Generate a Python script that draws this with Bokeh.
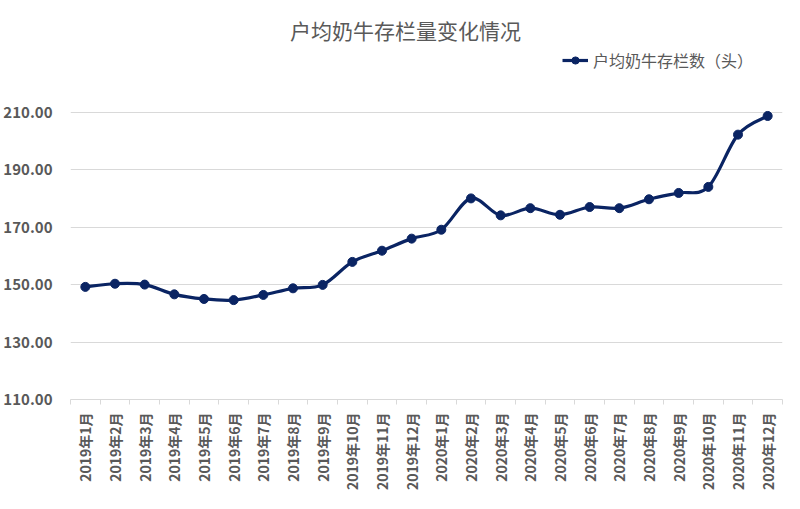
import numpy as np
from bokeh.plotting import figure
from bokeh.models import (Range1d, FixedTicker, NumeralTickFormatter, Legend, LegendItem, Label)
from bokeh.embed import file_html
from bokeh.resources import INLINE

title_text = "户均奶牛存栏量变化情况"
series_name = "户均奶牛存栏数（头）"
months = ["2019年1月", "2019年2月", "2019年3月", "2019年4月", "2019年5月", "2019年6月",
          "2019年7月", "2019年8月", "2019年9月", "2019年10月", "2019年11月", "2019年12月",
          "2020年1月", "2020年2月", "2020年3月", "2020年4月", "2020年5月", "2020年6月",
          "2020年7月", "2020年8月", "2020年9月", "2020年10月", "2020年11月", "2020年12月"]
herd = [149.2, 150.3, 150.0, 146.6, 145.0, 144.6, 146.4, 148.7, 149.9, 157.9, 161.8, 166.0,
        169.1, 180.0, 174.1, 176.6, 174.3, 177.0, 176.6, 179.7, 181.9, 184.0, 202.2, 208.7]
y_ticks = [110, 130, 150, 170, 190, 210]

FONT = "Noto Sans CJK SC"
GRAY = "#595959"
NAVY = "#0a2463"

n = len(months)
xs = np.arange(n) + 0.5
ys = np.array(herd, dtype=float)

# the frame extends above the top gridline to hold the title and legend
y_top = y_ticks[-1] + 37.15

p = figure(width=784, height=493, output_backend="svg", toolbar_location=None,
           x_range=Range1d(0, n), y_range=Range1d(y_ticks[0], y_top),
           min_border_left=68, min_border_right=2, min_border_top=5, min_border_bottom=92)
p.outline_line_color = None
p.background_fill_color = "white"
p.border_fill_color = "white"

# y axis
p.yaxis.ticker = FixedTicker(ticks=y_ticks)
p.yaxis.formatter = NumeralTickFormatter(format="0.00")
p.yaxis.axis_line_color = None
p.yaxis.major_tick_line_color = None
p.yaxis.major_tick_out = 0
p.yaxis.minor_tick_line_color = None
p.yaxis.major_label_text_font = FONT
p.yaxis.major_label_text_font_style = "bold"
p.yaxis.major_label_text_font_size = "15px"
p.yaxis.major_label_text_color = GRAY
p.yaxis.major_label_standoff = 18
p.ygrid.grid_line_color = "#d9d9d9"
p.ygrid.grid_line_width = 1
p.xgrid.grid_line_color = None

# x axis
p.xaxis.ticker = FixedTicker(ticks=list(xs), minor_ticks=list(np.arange(n + 1)))
p.xaxis.major_label_overrides = {float(x): m for x, m in zip(xs, months)}
p.xaxis.major_label_orientation = np.pi / 2
p.xaxis.axis_line_color = "#d9d9d9"
p.xaxis.major_tick_line_color = None
p.xaxis.major_tick_out = 0
p.xaxis.major_tick_in = 0
p.xaxis.minor_tick_line_color = "#d9d9d9"
p.xaxis.minor_tick_in = 0
p.xaxis.minor_tick_out = 5
p.xaxis.major_label_text_font = FONT
p.xaxis.major_label_text_font_style = "bold"
p.xaxis.major_label_text_font_size = "14px"
p.xaxis.major_label_text_color = GRAY
p.xaxis.major_label_standoff = 8

# smoothed line (Catmull-Rom -> cubic Bezier, like a spreadsheet smoothed line)
xp = np.concatenate([[xs[0]], xs, [xs[-1]]])
yp = np.concatenate([[ys[0]], ys, [ys[-1]]])
x0, y0 = xp[1:-2], yp[1:-2]
x1, y1 = xp[2:-1], yp[2:-1]
cx0 = x0 + (xp[2:-1] - xp[:-3]) / 6.0
cy0 = y0 + (yp[2:-1] - yp[:-3]) / 6.0
cx1 = x1 - (xp[3:] - xp[1:-2]) / 6.0
cy1 = y1 - (yp[3:] - yp[1:-2]) / 6.0
bz = p.bezier(x0=x0, y0=y0, x1=x1, y1=y1, cx0=cx0, cy0=cy0, cx1=cx1, cy1=cy1,
              line_color=NAVY, line_width=3.2)
sc = p.scatter(xs, ys, size=9, marker="circle", fill_color=NAVY, line_color=NAVY)

legend = Legend(items=[LegendItem(label=series_name, renderers=[bz, sc])],
                location=(492, 327), orientation="horizontal",
                label_text_font=FONT, label_text_font_size="16px", label_text_color=GRAY,
                glyph_width=26, glyph_height=18, label_standoff=5, padding=0, margin=0,
                border_line_color=None, background_fill_alpha=0)
p.add_layout(legend, "center")

title = Label(x=n / 2 - 0.71, y=y_ticks[-1] + 28.5, text=title_text, text_align="center",
              text_baseline="middle", text_font=FONT, text_font_size="21px",
              text_color=GRAY)
p.add_layout(title)

open("out.html", "w").write(file_html(p, INLINE))
